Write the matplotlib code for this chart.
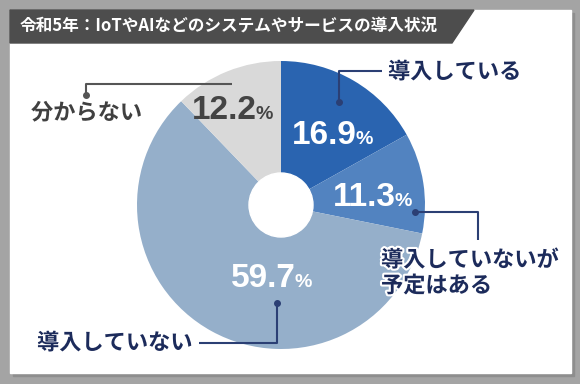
import matplotlib.pyplot as plt
import matplotlib.patheffects as pe
from matplotlib.patches import Rectangle, Polygon, Circle

plt.rcParams['font.family'] = ['Noto Sans CJK JP', 'DejaVu Sans']

title = "令和5年：IoTやAIなどのシステムやサービスの導入状況"
categories = ["導入している", "導入していないが\n予定はある", "導入していない", "分からない"]
values = [16.9, 11.3, 59.7, 12.2]
colors = ['#2a64b0', '#5283c0', '#95afca', '#d9d9d9']

W, H = 580, 384
fig = plt.figure(figsize=(W / 100, H / 100), dpi=100, facecolor='#a4a4a4')
ax = fig.add_axes([0, 0, 1, 1])
ax.set_axis_off()


def Y(y):
    # pixel rows measured from the top
    return H - y


# card + shadow
ax.add_patch(Rectangle((13, Y(376)), 561, 363, color='#8e8e8e', zorder=0))
ax.add_patch(Rectangle((10, Y(373)), 561, 363, color='white', zorder=1))

# header band with slanted end
ax.add_patch(Polygon([(10, Y(10)), (474, Y(10)), (452, Y(43)), (10, Y(43))],
                     closed=True, color='#4d4d4d', zorder=2))
ax.text(20, Y(26.5), title, color='white', fontsize=12, fontweight='bold',
        ha='left', va='center', zorder=3)

# donut
cx, cy, r = 281, Y(205), 144
ax.pie(values, colors=colors, startangle=90, counterclock=False,
       center=(cx, cy), radius=r, wedgeprops=dict(linewidth=0), frame=False)
ax.add_patch(Circle((cx, cy), 32, color='white', zorder=5))

ax.set_xlim(0, W)
ax.set_ylim(0, H)
ax.set_aspect('auto')

# percentage labels: (x where number ends, baseline y, colour)
pct_pos = [(357, 144, 'white'), (396, 206, 'white'),
           (296, 287, 'white'), (257, 119, '#444444')]
for v, (px, py, c) in zip(values, pct_pos):
    ax.text(px, Y(py), f"{v:.1f}", fontsize=24, fontweight='bold', color=c,
            family='Liberation Sans', ha='right', va='baseline', zorder=6)
    ax.text(px - 1.5, Y(py), "%", fontsize=14, fontweight='bold', color=c,
            family='Liberation Sans', ha='left', va='baseline', zorder=6)

navy = '#1c2b5b'
grey = '#404040'
halo = [pe.withStroke(linewidth=3, foreground='white')]

# callouts: (line path, text pos, text align, colour)
callouts = [
    ([(339, 102), (339, 71), (382, 71)], (388, 72), 'left', navy),
    ([(415, 212), (478, 212), (478, 240)], (381, 273), 'left', navy),
    ([(277, 303), (277, 343), (199, 343)], (37, 343), 'left', navy),
    ([(86, 95), (86, 84), (232, 84)], (31, 113), 'left', grey),
]
for lab, (path, (tx, ty), ha, c) in zip(categories, callouts):
    xs = [p[0] for p in path]
    ys = [Y(p[1]) for p in path]
    lc = '#2b3f74' if c == navy else '#555555'
    ax.plot(xs, ys, color=lc, lw=1.5, zorder=7, solid_capstyle='butt')
    ax.plot(xs[0], ys[0], 'o', color=lc, ms=4, zorder=7)
    ax.text(tx, Y(ty), lab, fontsize=16, fontweight='bold', color=c,
            ha=ha, va='center', linespacing=1.15, zorder=8, path_effects=halo)

fig.savefig('out.png', dpi=100, facecolor=fig.get_facecolor())
